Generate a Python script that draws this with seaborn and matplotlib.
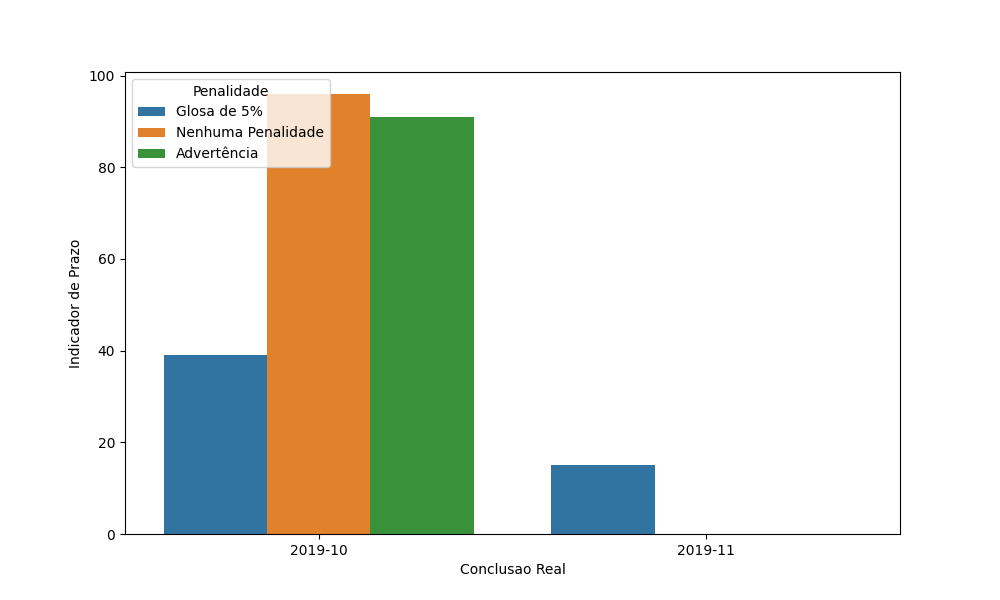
import matplotlib
matplotlib.use("Agg")
import matplotlib.pyplot as plt
import seaborn as sns
import pandas as pd

meses = ["2019-10", "2019-10", "2019-10", "2019-11"]
penalidades = ["Glosa de 5%", "Nenhuma Penalidade", "Advertência", "Glosa de 5%"]
valores = [39, 96, 91, 15]
ordem_hue = ["Glosa de 5%", "Nenhuma Penalidade", "Advertência"]
ordem_x = ["2019-10", "2019-11"]

df = pd.DataFrame({"Conclusao Real": meses, "Penalidade": penalidades, "Indicador de Prazo": valores})

fig, ax = plt.subplots(figsize=(10, 6), dpi=100)
sns.barplot(data=df, x="Conclusao Real", y="Indicador de Prazo", hue="Penalidade",
            order=ordem_x, hue_order=ordem_hue, errorbar=None, ax=ax)
ax.legend(title="Penalidade", loc="upper left")
fig.savefig("out.png", dpi=100)
